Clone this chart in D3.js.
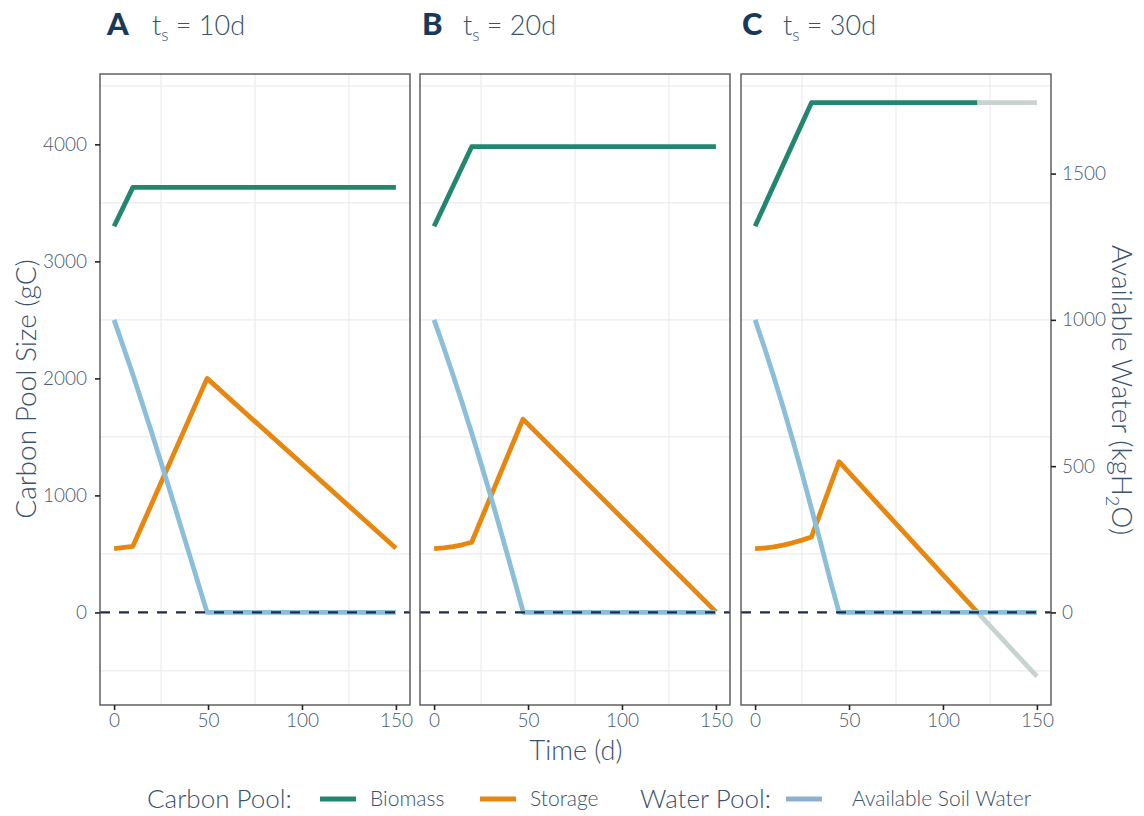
<!DOCTYPE html>
<html>
<head>
<meta charset="utf-8">
<script src="https://cdn.jsdelivr.net/npm/d3@7"></script>
<style>
  html, body { margin: 0; padding: 0; background: #fff; }
  svg { display: block; font-family: Lato, "Open Sans", sans-serif; }
</style>
</head>
<body>
<svg id="chart" width="1144" height="816"></svg>
<script>
// ---- data -------------------------------------------------------------
const panelLetters = ["A", "B", "C"];
const storageTimes = ["10d", "20d", "30d"];

// [day, gC]
const biomassA = [[0, 3300], [10, 3632], [150, 3632]];
const biomassB = [[0, 3300], [20, 3980], [150, 3980]];
const biomassC = [[0, 3300], [30, 4356], [118.4, 4356]];
const biomassCGrey = [[118.4, 4356], [150, 4356]];

const storageA = [[0, 546], [10, 565], [49.5, 2000], [150, 548]];
const storageB = [[0, 546], [5, 552], [10, 562], [15, 578], [20, 600], [47.3, 1652], [150, 5]];
const storageC = [[0, 546], [5, 550], [10, 560], [15, 575], [20, 595], [25, 618], [30, 645], [44.7, 1288], [118.4, 0]];
const storageCGrey = [[118.4, 0], [150, -546]];

// [day, kgH2O]
const waterA = [[0, 1000], [10, 813], [20, 615], [30, 410], [40, 200], [49.5, 0], [150, 0]];
const waterB = [[0, 1000], [5, 908], [10, 813], [15, 715], [20, 613], [25, 508], [30, 400], [35, 289], [40, 175], [45, 58], [47.5, 0], [150, 0]];
const waterC = [[0, 1000], [5, 905], [10, 805], [15, 700], [20, 590], [25, 475], [30, 355], [35, 235], [40, 110], [44.7, 0], [150, 0]];

const xTicks = [0, 50, 100, 150];
const xMinor = [25, 75, 125];
const carbonTicks = [0, 1000, 2000, 3000, 4000];
const carbonMinor = [-500, 500, 1500, 2500, 3500, 4500];
const waterTicks = [0, 500, 1000, 1500];
const waterToCarbon = 2.5;   // secondary axis factor

const panels = [
  { biomass: biomassA, storage: storageA, water: waterA, greyBiomass: null, greyStorage: null },
  { biomass: biomassB, storage: storageB, water: waterB, greyBiomass: null, greyStorage: null },
  { biomass: biomassC, storage: storageC, water: waterC, greyBiomass: biomassCGrey, greyStorage: storageCGrey }
];

// ---- styling -----------------------------------------------------------
const col = {
  biomass: "#23876f",
  storage: "#e8870f",
  water: "#8bbfd9",
  waterKey: "#8eb0cf",
  grey: "#c8d3d1",
  zero: "#1b2e45",
  tick: "#475b70",
  title: "#3a526b",
  letter: "#173a5a",
  grid: "#ebebeb",
  frame: "#555555"
};

const svg = d3.select("#chart");

const panelLeft = [100, 420, 741];
const letterX = [107, 422, 742];
const headX = [152, 463, 783];
const panelW = 310;
const plotTop = 74, plotBottom = 705;
const tickFont = 19;

const y = d3.scaleLinear().domain([-791, 4601]).range([plotBottom, plotTop]);
const yWater = d3.scaleLinear().domain([-791 / waterToCarbon, 4601 / waterToCarbon]).range([plotBottom, plotTop]);

const styleAxis = a => {
  a.select(".domain").remove();
  a.selectAll(".tick line").attr("stroke", "#222").attr("stroke-width", 1.6);
  a.selectAll("text").attr("fill", col.tick).attr("font-size", tickFont)
    .attr("font-family", "Lato").attr("font-weight", 300);
};

panels.forEach((p, i) => {
  const x0 = panelLeft[i];
  const x = d3.scaleLinear().domain([-7.5, 157.5]).range([x0, x0 + panelW]);
  const g = svg.append("g");

  // minor grid
  g.selectAll(".gx").data(xMinor).enter().append("line")
    .attr("x1", d => x(d)).attr("x2", d => x(d))
    .attr("y1", plotTop).attr("y2", plotBottom)
    .attr("stroke", col.grid).attr("stroke-width", 1.2);
  g.selectAll(".gy").data(carbonMinor).enter().append("line")
    .attr("x1", x0).attr("x2", x0 + panelW)
    .attr("y1", d => y(d)).attr("y2", d => y(d))
    .attr("stroke", col.grid).attr("stroke-width", 1.2);

  const line = d3.line().x(d => x(d[0])).y(d => y(d[1]));
  const wline = d3.line().x(d => x(d[0])).y(d => yWater(d[1]));

  const draw = (data, gen, c) => g.append("path").datum(data)
    .attr("d", gen).attr("fill", "none").attr("stroke", c)
    .attr("stroke-width", 4.8).attr("stroke-linejoin", "round").attr("stroke-linecap", "butt");

  draw(p.biomass, line, col.biomass);
  if (p.greyBiomass) draw(p.greyBiomass, line, col.grey);
  draw(p.storage, line, col.storage);
  if (p.greyStorage) draw(p.greyStorage, line, col.grey);
  draw(p.water, wline, col.water);

  // zero reference
  g.append("line")
    .attr("x1", x0).attr("x2", x0 + panelW)
    .attr("y1", y(0)).attr("y2", y(0))
    .attr("stroke", col.zero).attr("stroke-width", 2.2)
    .attr("stroke-dasharray", "10,9");

  // frame
  g.append("rect")
    .attr("x", x0).attr("y", plotTop).attr("width", panelW).attr("height", plotBottom - plotTop)
    .attr("fill", "none").attr("stroke", col.frame).attr("stroke-width", 1.4);

  // x axis
  const xa = g.append("g").attr("transform", `translate(0,${plotBottom})`)
    .call(d3.axisBottom(x).tickValues(xTicks).tickFormat(d3.format("d")).tickSize(5).tickPadding(4));
  styleAxis(xa);

  // panel heading
  svg.append("text").attr("x", letterX[i]).attr("y", 35).text(panelLetters[i])
    .attr("font-size", 31).attr("font-weight", 900).attr("fill", col.letter);
  const t = svg.append("text").attr("x", headX[i]).attr("y", 35)
    .attr("font-size", 27).attr("font-weight", 300).attr("fill", col.title);
  t.append("tspan").text("t");
  t.append("tspan").text("s").attr("font-size", 17).attr("dy", 6);
  t.append("tspan").text(" = " + storageTimes[i]).attr("dy", -6);
});

// left axis
const ya = svg.append("g").attr("transform", `translate(${panelLeft[0]},0)`)
  .call(d3.axisLeft(y).tickValues(carbonTicks).tickFormat(d3.format("d")).tickSize(5).tickPadding(8));
styleAxis(ya);

// right axis (water)
const rightX = panelLeft[2] + panelW;
const yr = svg.append("g").attr("transform", `translate(${rightX},0)`)
  .call(d3.axisRight(yWater).tickValues(waterTicks).tickFormat(d3.format("d")).tickSize(5).tickPadding(6));
styleAxis(yr);

// axis titles
svg.append("text").text("Carbon Pool Size (gC)")
  .attr("transform", "translate(36,389) rotate(-90)")
  .attr("text-anchor", "middle").attr("font-size", 28).attr("font-weight", 300)
  .attr("fill", col.title);

const rt = svg.append("text")
  .attr("transform", "translate(1112,390) rotate(90)")
  .attr("text-anchor", "middle").attr("font-size", 28).attr("font-weight", 300)
  .attr("fill", col.title);
rt.append("tspan").text("Available Water (kgH");
rt.append("tspan").text("2").attr("font-size", 18).attr("dy", 6);
rt.append("tspan").text("O)").attr("dy", -6);

svg.append("text").text("Time (d)")
  .attr("x", 576).attr("y", 760).attr("text-anchor", "middle")
  .attr("font-size", 27).attr("font-weight", 300).attr("fill", col.title);

// legend
const legendY = 799;
const legend = svg.append("g");
const legText = (txt, xPos, size) => legend.append("text").text(txt)
  .attr("x", xPos).attr("y", legendY + (size > 22 ? 9 : 7))
  .attr("font-size", size).attr("font-weight", 300).attr("fill", col.title);
const legKey = (xPos, c) => legend.append("line")
  .attr("x1", xPos).attr("x2", xPos + 36).attr("y1", legendY).attr("y2", legendY)
  .attr("stroke", c).attr("stroke-width", 4.8);

legText("Carbon Pool:", 147, 26);
legKey(320, col.biomass);
legText("Biomass", 370, 21);
legKey(480, col.storage);
legText("Storage", 530, 21);
legText("Water Pool:", 640, 26);
legKey(786, col.waterKey);
legText("Available Soil Water", 852, 21);
</script>
</body>
</html>
